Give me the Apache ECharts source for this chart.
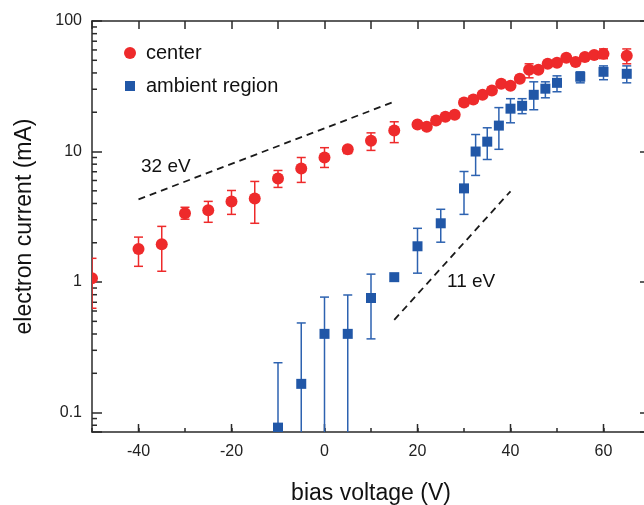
<!DOCTYPE html>
<html>
<head>
<meta charset="utf-8">
<script src="https://cdn.jsdelivr.net/npm/echarts@6/dist/echarts.min.js"></script>
<style>
html,body{margin:0;padding:0;background:#fff;}
#chart{width:644px;height:505px;}
</style>
</head>
<body>
<div id="chart"></div>
<script>
// ---- data ----
const centerV = [-50,-40,-35,-30,-25,-20,-15,-10,-5,0,5,10,15,20,22,24,26,28,30,32,34,36,38,40,42,44,46,48,50,52,54,56,58,60,65];
const centerI = [1.07,1.79,1.95,3.37,3.55,4.15,4.37,6.22,7.41,9.0,10.4,12.1,14.5,16.1,15.5,17.3,18.5,19.1,23.7,25.0,27.2,29.3,33.0,31.9,36.1,42.3,42.3,47.0,47.8,52.2,48.6,53.1,55.0,56.0,54.1];
const centerLo = [0.63,1.32,1.21,3.03,2.87,3.30,2.82,5.31,5.80,7.55,9.66,10.2,11.7,15.2,14.6,16.3,17.5,18.0,22.4,23.6,25.7,27.7,31.2,30.1,34.1,36.7,40.0,44.4,45.2,49.3,45.9,50.2,52.0,51.5,47.0];
const centerHi = [1.52,2.21,2.67,3.74,4.15,5.03,5.90,7.16,9.0,10.7,10.9,13.9,16.9,17.0,16.4,18.3,19.6,20.2,25.0,26.4,28.7,31.0,34.9,33.7,38.2,47.0,44.7,49.7,50.5,55.2,51.4,56.1,58.1,61.1,61.1];

const ambV = [-10,-5,0,5,10,15,20,25,30,32.5,35,37.5,40,42.5,45,47.5,50,55,60,65];
const ambI = [0.0767,0.166,0.401,0.401,0.755,1.09,1.88,2.82,5.22,10.0,11.9,15.8,21.3,22.4,27.2,30.3,33.6,37.4,40.8,39.4];
const ambLo = [0.01,0.01,0.01,0.01,0.367,1.09,1.17,2.02,3.30,6.56,8.69,10.4,16.6,19.5,20.9,25.8,28.7,33.6,35.5,33.6];
const ambHi = [0.241,0.486,0.767,0.796,1.15,1.09,2.58,3.61,7.03,13.5,15.2,21.7,25.4,25.4,34.2,34.2,38.0,40.8,45.3,45.3];

const slope32V = [-40, 15];
const slope32I = [4.30, 24.1];
const slope11V = [15, 40];
const slope11I = [0.513, 4.96];

const xTickLabels = [-40,-20,0,20,40,60];
const yTickLabels = [0.1,1,10,100];

// ---- styles ----
const RED = '#ee2a2b';
const BLUE = '#2157a7';
const BLUE_ERR = '#2d62b0';
const AXIS = '#2a2a2a';
const FONT = "'Liberation Sans', Arial, sans-serif";
const X_MIN = -50, X_MAX = 70, Y_MIN = 0.071, Y_MAX = 100;

const zip = (a, b) => a.map((v, i) => [v, b[i]]);
const zip3 = (a, b, c) => a.map((v, i) => [v, b[i], c[i]]);

const minorTickVals = [];
for (let d = -2; d <= 1; d++) {
  for (let k = 2; k <= 9; k++) {
    const v = k * Math.pow(10, d);
    if (v >= Y_MIN && v <= Y_MAX) minorTickVals.push([X_MIN, v]);
  }
}
const xMajorTickVals = xTickLabels.map(v => [v, Y_MIN]);

function errItem(color) {
  return function (params, api) {
    const x = api.value(0), lo = api.value(1), hi = api.value(2);
    if (lo === hi) return null;
    const a = api.coord([x, hi]), b = api.coord([x, lo]);
    const w = 4.5;
    const st = {stroke: color, lineWidth: 1.5, fill: null};
    return {type: 'group', children: [
      {type: 'line', shape: {x1: a[0], y1: a[1], x2: b[0], y2: b[1]}, style: st},
      {type: 'line', shape: {x1: a[0] - w, y1: a[1], x2: a[0] + w, y2: a[1]}, style: st},
      {type: 'line', shape: {x1: b[0] - w, y1: b[1], x2: b[0] + w, y2: b[1]}, style: st}
    ]};
  };
}
function markerItem(shape, size, color) {
  return function (params, api) {
    const p = api.coord([api.value(0), api.value(1)]);
    if (shape === 'circle') {
      return {type: 'circle', shape: {cx: p[0], cy: p[1], r: size / 2}, style: {fill: color}};
    }
    return {type: 'rect', shape: {x: p[0] - size / 2, y: p[1] - size / 2, width: size, height: size}, style: {fill: color}};
  };
}

function logLabel(v) {
  const l = Math.log10(v);
  if (Math.abs(l - Math.round(l)) > 1e-6) return '';
  const r = +Math.pow(10, Math.round(l)).toPrecision(3);
  return yTickLabels.includes(r) ? String(r) : '';
}

const chart = echarts.init(document.getElementById('chart'), null, {renderer: 'canvas'});
const option = {
  backgroundColor: '#fff',
  animation: false,
  textStyle: {fontFamily: FONT},
  grid: {left: 92, right: -6, top: 21, bottom: 73, containLabel: false, outerBoundsMode: 'none'},
  legend: [
    {data: [{name: 'center', icon: 'circle', itemStyle: {color: RED}}], left: 124, top: 43, padding: 0,
     itemWidth: 12, itemHeight: 12, itemGap: 0, selectedMode: false,
     textStyle: {fontSize: 20, color: '#111', fontFamily: FONT, lineHeight: 20, padding: [0, 0, 0, 5]}},
    {data: [{name: 'ambient region', icon: 'rect', itemStyle: {color: BLUE}}], left: 125, top: 76, padding: 0,
     itemWidth: 10, itemHeight: 10, itemGap: 0, selectedMode: false,
     textStyle: {fontSize: 20, color: '#111', fontFamily: FONT, lineHeight: 20, padding: [0, 0, 0, 6]}}
  ],
  xAxis: [
    {type: 'value', position: 'bottom', min: X_MIN, max: X_MAX, interval: 10,
     name: 'bias voltage (V)', nameLocation: 'middle', nameGap: 50,
     nameTextStyle: {fontSize: 23, color: '#111', fontFamily: FONT},
     axisLine: {show: true, onZero: false, lineStyle: {color: AXIS, width: 1.5}},
     axisTick: {show: true, inside: true, length: 4, lineStyle: {color: AXIS, width: 1.5}},
     axisLabel: {show: true, margin: 12, fontSize: 16, color: '#222', fontFamily: FONT,
       formatter: v => xTickLabels.includes(v) ? String(v) : ''},
     splitLine: {show: false}},
    {type: 'value', position: 'top', min: X_MIN, max: X_MAX, interval: 10,
     axisLine: {show: true, onZero: false, lineStyle: {color: AXIS, width: 1.5}},
     axisTick: {show: true, inside: true, length: 8, lineStyle: {color: AXIS, width: 1.5}},
     axisLabel: {show: false}, splitLine: {show: false}}
  ],
  yAxis: [
    {type: 'log', logBase: 10, position: 'left', min: Y_MIN, max: Y_MAX,
     name: 'electron current (mA)', nameLocation: 'middle', nameGap: 56,
     nameTextStyle: {fontSize: 23, color: '#111', fontFamily: FONT},
     axisLine: {show: true, onZero: false, lineStyle: {color: AXIS, width: 1.5}},
     axisTick: {show: true, inside: true, length: 10, lineStyle: {color: AXIS, width: 1.5}},
     axisLabel: {show: true, margin: 10, fontSize: 16, color: '#222', fontFamily: FONT, formatter: logLabel},
     splitLine: {show: false}},
    {type: 'log', logBase: 10, position: 'right', min: Y_MIN, max: Y_MAX,
     axisLine: {show: true, onZero: false, lineStyle: {color: AXIS, width: 1.5}},
     axisTick: {show: true, inside: true, length: 10, lineStyle: {color: AXIS, width: 1.5}},
     axisLabel: {show: false}, splitLine: {show: false}}
  ],
  graphic: [
    {type: 'text', left: 141, top: 157, style: {text: '32 eV', fill: '#111', font: "19px " + FONT}},
    {type: 'text', left: 447, top: 272, style: {text: '11 eV', fill: '#111', font: "19px " + FONT}}
  ],
  series: [
    {name: 'minorY', type: 'custom', silent: true, clip: false, data: minorTickVals,
     encode: {x: 0, y: 1},
     renderItem: function (params, api) {
       const p = api.coord([api.value(0), api.value(1)]);
       return {type: 'line', shape: {x1: p[0], y1: p[1], x2: p[0] + 5, y2: p[1]}, style: {stroke: AXIS, lineWidth: 1.5}};
     }},
    {name: 'majorX', type: 'custom', silent: true, clip: false, data: xMajorTickVals,
     encode: {x: 0, y: 1},
     renderItem: function (params, api) {
       const p = api.coord([api.value(0), api.value(1)]);
       return {type: 'line', shape: {x1: p[0], y1: p[1], x2: p[0], y2: p[1] - 8}, style: {stroke: AXIS, lineWidth: 1.5}};
     }},
    {name: 'slope32', type: 'line', data: zip(slope32V, slope32I), showSymbol: false, symbol: 'none', silent: true,
     lineStyle: {color: '#1a1a1a', width: 1.8, type: [7, 5]}},
    {name: 'slope11', type: 'line', data: zip(slope11V, slope11I), showSymbol: false, symbol: 'none', silent: true,
     lineStyle: {color: '#1a1a1a', width: 1.8, type: [7, 5]}},
    {name: 'ambErr', type: 'custom', clip: true, data: zip3(ambV, ambLo, ambHi), encode: {x: 0, y: [1, 2]},
     renderItem: errItem(BLUE_ERR)},
    {name: 'ambient region', type: 'custom', clip: true, data: zip(ambV, ambI), encode: {x: 0, y: 1},
     itemStyle: {color: BLUE}, renderItem: markerItem('rect', 10, BLUE)},
    {name: 'centerErr', type: 'custom', clip: true, data: zip3(centerV, centerLo, centerHi), encode: {x: 0, y: [1, 2]},
     renderItem: errItem(RED)},
    {name: 'center', type: 'custom', clip: true, data: zip(centerV, centerI), encode: {x: 0, y: 1},
     itemStyle: {color: RED}, renderItem: markerItem('circle', 12, RED)}
  ]
};
chart.setOption(option);
</script>
</body>
</html>
